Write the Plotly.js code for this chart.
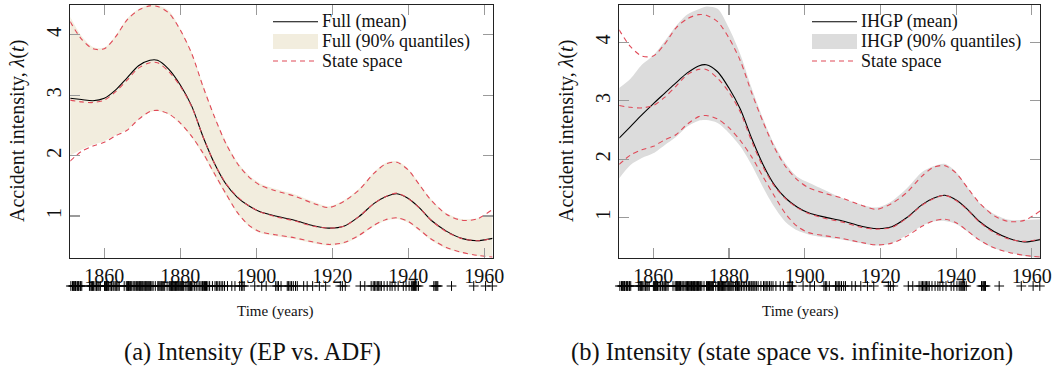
<!DOCTYPE html>
<html>
<head>
<meta charset="utf-8">
<script src="https://cdn.plot.ly/plotly-3.0.1.min.js"></script>
<style>
html,body{margin:0;padding:0;background:#fff;}
#chart{width:1055px;height:368px;}
</style>
</head>
<body>
<div id="chart"></div>
<script>
// ---- data ----
const years = [1851, 1854, 1857, 1860, 1863, 1866, 1869, 1872, 1874, 1877, 1880, 1883, 1886, 1889, 1892, 1895, 1898, 1901, 1905, 1910, 1915, 1919, 1923, 1927, 1931, 1934, 1937, 1940, 1943, 1946, 1950, 1954, 1958, 1962.2];

// state space (shared by both panels)
const ssUpper = [4.22, 3.93, 3.77, 3.77, 3.97, 4.25, 4.41, 4.48, 4.47, 4.36, 4.08, 3.69, 3.14, 2.64, 2.20, 1.87, 1.65, 1.51, 1.42, 1.33, 1.21, 1.14, 1.24, 1.43, 1.71, 1.86, 1.89, 1.76, 1.51, 1.26, 1.03, 0.93, 0.95, 1.11];
const ssMean  = [2.92, 2.89, 2.88, 2.92, 3.06, 3.25, 3.45, 3.54, 3.54, 3.39, 3.15, 2.81, 2.31, 1.87, 1.54, 1.32, 1.17, 1.07, 0.99, 0.92, 0.83, 0.80, 0.83, 0.99, 1.21, 1.32, 1.38, 1.29, 1.13, 0.93, 0.74, 0.63, 0.59, 0.63];
const ssLower = [1.91, 2.07, 2.16, 2.22, 2.33, 2.42, 2.60, 2.73, 2.75, 2.69, 2.54, 2.32, 2.04, 1.70, 1.37, 1.06, 0.85, 0.74, 0.69, 0.64, 0.57, 0.53, 0.56, 0.68, 0.85, 0.94, 0.97, 0.91, 0.77, 0.62, 0.48, 0.40, 0.35, 0.32];

// (a) Full model
const fullMean  = [2.95, 2.93, 2.91, 2.95, 3.09, 3.29, 3.49, 3.58, 3.58, 3.43, 3.17, 2.82, 2.31, 1.87, 1.53, 1.31, 1.17, 1.07, 1.00, 0.93, 0.84, 0.80, 0.83, 0.99, 1.21, 1.32, 1.37, 1.29, 1.13, 0.93, 0.75, 0.63, 0.59, 0.63];
const fullUpper = [4.30, 3.98, 3.80, 3.79, 3.99, 4.27, 4.43, 4.50, 4.49, 4.40, 4.10, 3.71, 3.17, 2.67, 2.23, 1.90, 1.68, 1.54, 1.45, 1.36, 1.24, 1.16, 1.26, 1.45, 1.73, 1.88, 1.91, 1.78, 1.53, 1.28, 1.05, 0.95, 0.96, 1.03];
const fullLower = [2.00, 2.10, 2.18, 2.24, 2.34, 2.43, 2.60, 2.72, 2.74, 2.68, 2.52, 2.30, 2.01, 1.67, 1.34, 1.04, 0.83, 0.72, 0.67, 0.62, 0.55, 0.51, 0.54, 0.66, 0.83, 0.92, 0.95, 0.89, 0.75, 0.60, 0.46, 0.39, 0.34, 0.33];

// (b) IHGP
const ihgpMean  = [2.36, 2.56, 2.76, 2.95, 3.13, 3.31, 3.48, 3.60, 3.62, 3.50, 3.22, 2.86, 2.36, 1.91, 1.56, 1.33, 1.18, 1.08, 1.01, 0.94, 0.85, 0.81, 0.84, 1.00, 1.22, 1.33, 1.38, 1.30, 1.14, 0.94, 0.76, 0.64, 0.58, 0.62];
const ihgpUpper = [3.22, 3.38, 3.62, 3.78, 4.02, 4.28, 4.48, 4.57, 4.62, 4.58, 4.25, 3.80, 3.22, 2.70, 2.25, 1.92, 1.70, 1.60, 1.48, 1.33, 1.22, 1.17, 1.28, 1.50, 1.78, 1.88, 1.92, 1.78, 1.52, 1.26, 1.06, 0.96, 0.96, 0.97];
const ihgpLower = [1.67, 1.90, 2.02, 2.10, 2.24, 2.38, 2.56, 2.66, 2.67, 2.62, 2.45, 2.22, 1.90, 1.52, 1.18, 0.92, 0.78, 0.71, 0.66, 0.62, 0.56, 0.52, 0.56, 0.70, 0.86, 0.93, 0.94, 0.89, 0.76, 0.61, 0.47, 0.40, 0.34, 0.30];

// accident times (rug)
const events = [
 1851.20, 1851.63, 1851.97, 1851.98, 1852.31, 1852.35, 1852.36, 1852.57, 1852.97,
 1853.14, 1853.27, 1853.63, 1853.76, 1854.07,
 1856.09, 1856.46, 1856.69, 1856.88, 1857.13, 1857.55, 1857.91,
 1858.04, 1858.35, 1858.62, 1858.96,
 1860.05, 1860.24, 1860.38, 1860.57, 1860.71, 1860.91, 1861.14, 1861.52, 1861.87,
 1862.03, 1862.48, 1862.83, 1863.08, 1863.29, 1863.61, 1863.94, 1865.23, 1865.79,
 1866.04, 1866.19, 1866.37, 1866.53, 1866.74, 1866.93, 1867.21, 1867.58, 1867.86,
 1868.11, 1868.45, 1868.77, 1869.06, 1869.29, 1869.48, 1869.70, 1869.92,
 1870.12, 1870.41, 1870.66, 1870.89, 1871.03, 1871.27, 1871.49, 1871.71, 1871.95,
 1872.18, 1872.52, 1872.84, 1873.42, 1874.07, 1874.33, 1874.61, 1874.88,
 1875.10, 1875.37, 1875.64, 1875.90, 1876.52, 1877.05, 1877.26, 1877.48, 1877.69, 1877.91,
 1878.08, 1878.31, 1878.53, 1878.75, 1878.97, 1879.22, 1879.55, 1879.84,
 1880.09, 1880.34, 1880.60, 1880.87, 1881.28, 1881.74,
 1882.06, 1882.27, 1882.49, 1882.70, 1882.93, 1883.31, 1883.77, 1884.19, 1884.66,
 1885.12, 1885.47, 1885.83, 1886.05, 1886.36, 1886.62, 1886.89, 1887.25, 1887.71,
 1888.45, 1889.13, 1889.50, 1889.86, 1890.27, 1890.73, 1891.16, 1891.64,
 1892.41, 1893.55, 1894.38, 1895.62, 1896.08, 1896.44, 1896.81,
 1899.58, 1901.42, 1902.60, 1905.09, 1905.47, 1905.83, 1906.51,
 1908.14, 1908.50, 1908.88, 1909.27, 1909.73, 1910.31, 1910.78,
 1912.46, 1913.38, 1914.82, 1916.59, 1918.25, 1922.10, 1922.64, 1923.41,
 1927.37, 1928.55, 1930.22, 1930.76, 1931.12, 1931.48, 1931.85, 1932.19, 1932.55, 1932.91,
 1933.62, 1934.44, 1935.18, 1935.73, 1936.50, 1937.33, 1938.68, 1939.40,
 1940.21, 1940.79, 1941.06, 1941.35, 1941.62, 1941.90, 1942.23, 1942.67,
 1946.70, 1947.05, 1947.29, 1947.52, 1947.76, 1951.37, 1957.21, 1960.33, 1962.10
];

const xTicks = [1860, 1880, 1900, 1920, 1940, 1960];
const yTicks = [1, 2, 3, 4];
const legendA = ['Full (mean)', 'Full (90% quantiles)', 'State space'];
const legendB = ['IHGP (mean)', 'IHGP (90% quantiles)', 'State space'];

// ---- styling ----
const FONT = 'Liberation Serif';
const RED = 'rgb(224,74,88)';
const BEIGE = 'rgb(242,237,222)';
const GREY = 'rgb(220,220,220)';
const DASH = '5px,4px';
const SM = 0.8;

function panel(xa, ya, ra, names, mean, upper, lower, fill) {
  const out = [];
  out.push({x: years, y: lower, xaxis: xa, yaxis: ya, mode: 'lines', line: {width: 0, shape: 'spline', smoothing: SM},
            showlegend: false, hoverinfo: 'skip'});
  out.push({x: years, y: upper, xaxis: xa, yaxis: ya, mode: 'lines', line: {width: 0, shape: 'spline', smoothing: SM},
            fill: 'tonexty', fillcolor: fill, name: names[1], showlegend: false});
  out.push({x: years, y: mean, xaxis: xa, yaxis: ya, mode: 'lines', line: {color: '#000', width: 1.1, shape: 'spline', smoothing: SM},
            name: names[0], showlegend: false});
  [ssUpper, ssMean, ssLower].forEach((arr) => {
    out.push({x: years, y: arr, xaxis: xa, yaxis: ya, mode: 'lines',
              line: {color: RED, width: 1.1, dash: DASH, shape: 'spline', smoothing: SM},
              name: names[2], showlegend: false});
  });
  out.push({x: events, y: events.map(() => 0), xaxis: xa, yaxis: ra, mode: 'markers', cliponaxis: false,
            marker: {symbol: 'cross-thin', size: 7, line: {width: 1, color: '#000'}, color: '#000'},
            showlegend: false, hoverinfo: 'skip'});
  return out;
}

const traces = [].concat(
  panel('x', 'y', 'y3', legendA, fullMean, fullUpper, fullLower, BEIGE),
  panel('x2', 'y2', 'y4', legendB, ihgpMean, ihgpUpper, ihgpLower, GREY)
);

const W = 1055, H = 368;
const px = v => v / W, py = v => 1 - v / H;

function xAxis(domain, anchor) {
  return {domain: domain, anchor: anchor, range: [1851.05, 1962.15], tickvals: xTicks, ticktext: xTicks.map(String),
          showline: true, mirror: 'ticks', linecolor: '#222', linewidth: 1, ticks: 'inside', ticklen: 10, tickwidth: 1.2,
          tickcolor: '#9a9a9a', showgrid: false, zeroline: false, tickfont: {family: FONT, size: 20, color: '#111'}};
}
function yAxis(range, anchor) {
  return {domain: [py(257.7), py(4.7)], anchor: anchor, range: range, tickvals: yTicks, ticktext: yTicks.map(String),
          tickangle: -90, showline: true, mirror: 'ticks', linecolor: '#222', linewidth: 1, ticks: 'inside', ticklen: 10,
          tickwidth: 1.2, tickcolor: '#9a9a9a', showgrid: false, zeroline: false, tickfont: {family: FONT, size: 20, color: '#111'}};
}
const rugAxis = anchor => ({domain: [py(292), py(280)], anchor: anchor, range: [-1, 1], visible: false, fixedrange: true});

const ann = (text, x, y, size, angle, anchor) => ({text: text, x: px(x), y: py(y), xref: 'paper', yref: 'paper', showarrow: false,
  xanchor: anchor || 'center', yanchor: 'middle', textangle: angle || 0, font: {family: FONT, size: size, color: '#111'}});

// custom legends (symbol boxes drawn in paper space)
function legendShapes(x0, x1, fill) {
  return [
    {type: 'line', xref: 'paper', yref: 'paper', x0: px(x0), x1: px(x1), y0: py(21.7), y1: py(21.7), line: {color: '#000', width: 1.1}},
    {type: 'rect', xref: 'paper', yref: 'paper', x0: px(x0), x1: px(x1), y0: py(49), y1: py(34), fillcolor: fill, line: {width: 0}},
    {type: 'line', xref: 'paper', yref: 'paper', x0: px(x0), x1: px(x1), y0: py(61), y1: py(61), line: {color: RED, width: 1.1, dash: DASH}}
  ];
}
function legendText(names, x) {
  return names.map((n, i) => ann(n, x, [21.7, 41.7, 61][i], 18, 0, 'left'));
}

const layout = {
  width: W, height: H, margin: {l: 0, r: 0, t: 0, b: 0}, paper_bgcolor: '#fff', plot_bgcolor: 'rgba(0,0,0,0)',
  showlegend: false,
  xaxis: xAxis([px(70.3), px(492.5)], 'y'),
  yaxis: yAxis([0.31, 4.5], 'x'),
  xaxis2: xAxis([px(619.3), px(1040)], 'y2'),
  yaxis2: yAxis([0.31, 4.65], 'x2'),
  yaxis3: rugAxis('x'),
  yaxis4: rugAxis('x2'),
  shapes: [].concat(legendShapes(273, 318, BEIGE), legendShapes(812, 857, GREY)),
  annotations: [
    ann('Accident intensity, <i>λ</i>(<i>t</i>)', 17, 131, 20, -90),
    ann('Accident intensity, <i>λ</i>(<i>t</i>)', 566, 131, 20, -90),
    ann('Time (years)', 275, 311, 15),
    ann('Time (years)', 800, 311, 15),
    ann('(a) Intensity (EP vs. ADF)', 252, 352, 24.5),
    ann('(b) Intensity (state space vs. infinite-horizon)', 792, 352, 24.5)
  ].concat(legendText(legendA, 320), legendText(legendB, 859))
};

Plotly.newPlot('chart', traces, layout, {staticPlot: true, displayModeBar: false});
</script>
</body>
</html>
